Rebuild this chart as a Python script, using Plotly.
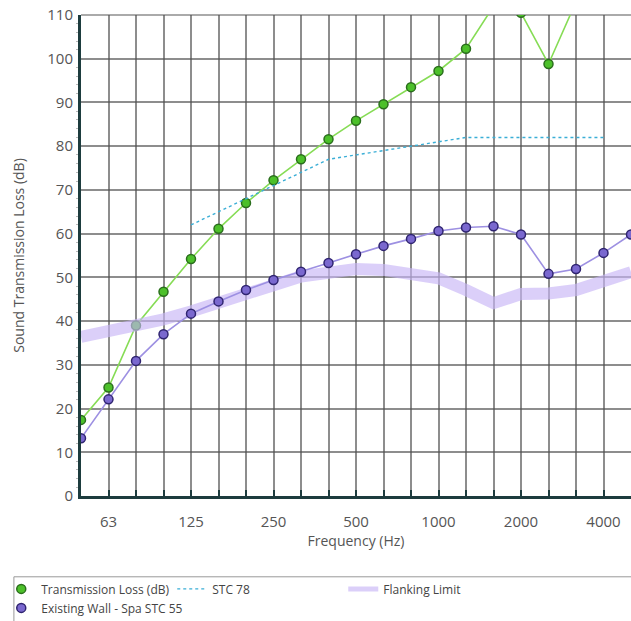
import plotly.graph_objects as go

freqs = ["50", "63", "80", "100", "125", "160", "200", "250", "315", "400", "500",
         "630", "800", "1000", "1250", "1600", "2000", "2500", "3150", "4000", "5000"]
tick_labels = ["", "63", "", "", "125", "", "", "250", "", "", "500",
               "", "", "1000", "", "", "2000", "", "", "4000", ""]

transmission_loss = [17.4, 24.8, 39.0, 46.7, 54.2, 61.1, 67.0, 72.2, 77.0, 81.6, 85.8,
                     89.6, 93.5, 97.2, 102.3, 112.0, 110.5, 98.8, 113.0, 116.0, 118.0]
existing_wall = [13.2, 22.1, 30.9, 37.0, 41.7, 44.5, 47.1, 49.4, 51.3, 53.3, 55.3,
                 57.2, 58.8, 60.6, 61.4, 61.7, 59.8, 50.8, 51.9, 55.6, 59.8]
stc_freqs = ["125", "160", "200", "250", "315", "400", "500", "630", "800", "1000",
             "1250", "1600", "2000", "2500", "3150", "4000"]
stc78 = [62, 65, 68, 71, 74, 77, 78, 79, 80, 81, 82, 82, 82, 82, 82, 82]
flanking_limit = [36.4, 37.6, 39.1, 40.4, 42.2, 44.0, 46.3, 48.2, 50.2, 51.3, 51.9,
                  51.7, 50.9, 49.8, 47.1, 44.1, 46.2, 46.3, 47.1, 49.0, 51.2]

font = "Open Sans, Noto Sans, sans-serif"
grid_col = "rgba(80,80,80,0.65)"
axis_col = "#1d3c3e"

tl_line = dict(color="#86dc55", width=1.6)
tl_marker = dict(size=9, color="#4cc02a", line=dict(color="#2a6e1c", width=1.5))
ew_line = dict(color="#9d90e2", width=1.6)
ew_marker = dict(size=9, color="#7a68cf", line=dict(color="#2f2470", width=1.5))
stc_line = dict(color="#3aaed6", width=1.4, dash="3px,3px")
fl_line = dict(color="rgba(200,182,246,0.65)", width=12)

fig = go.Figure()

# data traces (drawn order)
fig.add_trace(go.Scatter(x=freqs, y=transmission_loss, mode="lines+markers",
                         line=tl_line, marker=tl_marker, showlegend=False))
fig.add_trace(go.Scatter(x=stc_freqs, y=stc78, mode="lines",
                         line=stc_line, showlegend=False))
fig.add_trace(go.Scatter(x=freqs, y=flanking_limit, mode="lines",
                         line=fl_line, showlegend=False))
fig.add_trace(go.Scatter(x=freqs, y=existing_wall, mode="lines+markers",
                         line=ew_line, marker=ew_marker, showlegend=False))

# legend entries
fig.add_trace(go.Scatter(x=[None], y=[None], mode="markers", marker=tl_marker,
                         name="Transmission Loss (dB)", legendrank=1))
fig.add_trace(go.Scatter(x=[None], y=[None], mode="lines", line=stc_line,
                         name="STC 78", legendrank=2))
fig.add_trace(go.Scatter(x=[None], y=[None], mode="lines",
                         line=dict(color="rgba(200,182,246,0.65)", width=5),
                         name="Flanking Limit", legendrank=3))
fig.add_trace(go.Scatter(x=[None], y=[None], mode="markers", marker=ew_marker,
                         name="Existing Wall - Spa STC 55", legendrank=4))

fig.update_layout(
    width=631, height=621,
    margin=dict(l=81, r=0, t=15, b=125, autoexpand=False),
    plot_bgcolor="white", paper_bgcolor="white",
    font=dict(family=font, size=13, color="#555"),
    showlegend=True,
    legend=dict(
        orientation="h", x=-0.145, xanchor="left", y=-0.163, yanchor="top",
        entrywidth=126, entrywidthmode="pixels",
        font=dict(family=font, size=12, color="#444"),
        bgcolor="rgba(0,0,0,0)", borderwidth=0,
        itemwidth=30, tracegroupgap=0,
    ),
    shapes=[
        dict(type="rect", xref="paper", yref="paper",
             x0=-0.122, x1=1.05, y0=-0.3, y1=-0.168,
             line=dict(color="#999", width=1), fillcolor="rgba(0,0,0,0)", layer="below"),
        dict(type="line", xref="paper", yref="paper", x0=0, x1=1, y0=1, y1=1,
             line=dict(color=grid_col, width=1.5), layer="below"),
    ],
)

fig.update_xaxes(
    type="category", categoryorder="array", categoryarray=freqs,
    range=[0, 20], tickmode="array", tickvals=freqs, ticktext=tick_labels,
    showgrid=True, gridcolor=grid_col, gridwidth=1.5,
    showline=True, linecolor=axis_col, linewidth=3,
    ticks="inside", ticklen=6, tickcolor=axis_col, tickwidth=1.5,
    ticklabelstandoff=10,
    tickfont=dict(size=15, color="#555"),
    title=dict(text="Frequency (Hz)", font=dict(size=14, color="#555"), standoff=4),
    zeroline=False, automargin=False,
)
fig.update_yaxes(
    range=[0, 110], tickmode="linear", tick0=0, dtick=10,
    showgrid=True, gridcolor=grid_col, gridwidth=1.5,
    showline=True, linecolor=axis_col, linewidth=3,
    ticks="", ticklabelstandoff=2, ticklabeloverflow="allow",
    minor=dict(ticks="outside", dtick=2, ticklen=2, tickcolor="#bbb", showgrid=False),
    tickfont=dict(size=15, color="#555"),
    title=dict(text="Sound Transmission Loss (dB)", font=dict(size=14, color="#555"), standoff=20),
    zeroline=False, automargin=False,
)

fig.write_html("out.html", config={"displayModeBar": False},
               post_script="document.body.style.margin='0';")
